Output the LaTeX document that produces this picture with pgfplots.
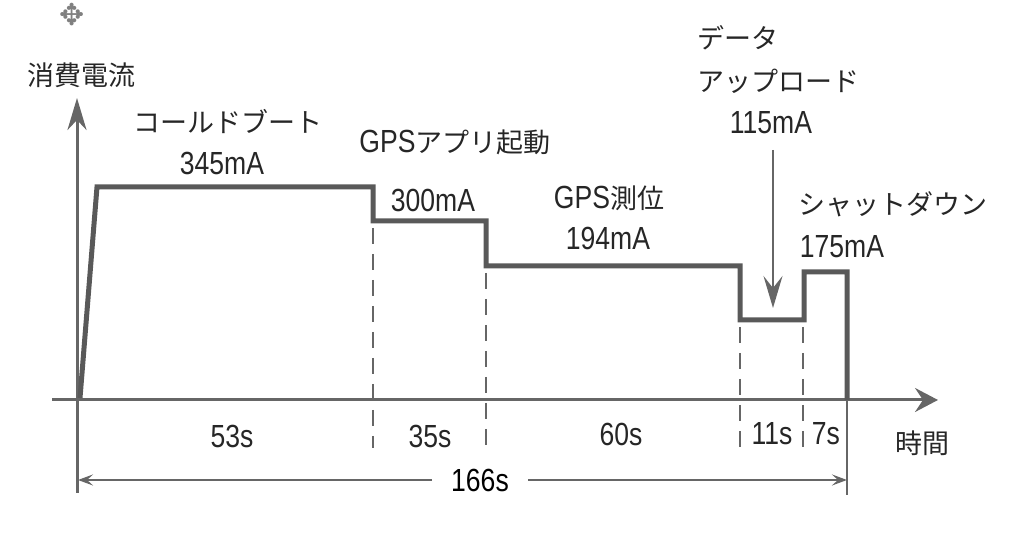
\documentclass[border=0pt]{standalone}
\usepackage{pgfplots}
\pgfplotsset{compat=1.18}
\usepackage{fontspec}
\usetikzlibrary{arrows.meta}
\setmainfont{Liberation Sans}
\newfontfamily\jp{Noto Sans CJK JP}
\newfontfamily\lat[FakeStretch=0.83]{Liberation Sans}
\newfontfamily\sym{DejaVu Sans}
\newcommand\J[1]{{\fontsize{13.5}{15}\selectfont\jp #1}}
\newcommand\LT[1]{{\fontsize{16}{18}\selectfont\lat #1}}
\definecolor{tracec}{HTML}{595959}
\definecolor{axc}{HTML}{666666}
\definecolor{txt}{HTML}{262626}
\begin{document}
\begin{tikzpicture}
\useasboundingbox (0,0) rectangle (517.5pt,270pt);
\begin{axis}[scale only axis, width=517.5pt, height=270pt,
  xmin=0, xmax=1035, ymin=0, ymax=540, hide axis, clip=false]
% axes
\addplot[color=axc, line width=1.5pt, -{Stealth[length=11.5pt,width=12pt,inset=4pt]}] coordinates {(52,140) (938,140)};
\addplot[color=axc, line width=1.5pt, -{Stealth[length=16pt,width=9.5pt,inset=5pt]}] coordinates {(77,47) (77,442)};
% right boundary
\addplot[color=axc, line width=1pt] coordinates {(847,140) (847,45)};
% dashed separators
\addplot[color=axc, line width=1.2pt, dash pattern=on 8pt off 5pt] coordinates {(373,312) (373,92)};
\addplot[color=axc, line width=1.2pt, dash pattern=on 8pt off 5pt] coordinates {(486,267) (486,92)};
\addplot[color=axc, line width=1.2pt, dash pattern=on 8pt off 5pt] coordinates {(740,213) (740,92)};
\addplot[color=axc, line width=1.2pt, dash pattern=on 8pt off 5pt] coordinates {(803,213) (803,92)};
% total arrows
\addplot[color=axc, line width=1.2pt, -{Stealth[length=7.5pt,width=5.5pt,inset=3pt]}] coordinates {(432,60) (78,60)};
\addplot[color=axc, line width=1.2pt, -{Stealth[length=7.5pt,width=5.5pt,inset=3pt]}] coordinates {(528,60) (847,60)};
% upload arrow
\addplot[color=axc, line width=1pt, -{Stealth[length=16pt,width=9.5pt,inset=6pt]}] coordinates {(773,390) (773,232)};
% current trace
\addplot[color=tracec, line width=2.5pt, line join=miter] coordinates {
(80,142) (97,353) (373,353) (373,319) (486,319) (486,274) (740,274)
(740,220) (804,220) (804,268) (847,268) (847,140)};
% texts
\node[text=txt] at (81,465) {\J{消費電流}};
\node[text=txt] at (228,418) {\J{コールドブート}};
\node[text=txt] at (222,377) {\LT{345mA}};
\node[text=txt] at (455,398) {\LT{GPS}\J{アプリ起動}};
\node[text=txt] at (433,340) {\LT{300mA}};
\node[text=txt] at (609,342) {\LT{GPS}\J{測位}};
\node[text=txt] at (608,302) {\LT{194mA}};
\node[text=txt, anchor=west, inner sep=0pt] at (697,502) {\J{データ}};
\node[text=txt, anchor=west, inner sep=0pt] at (697,459) {\J{アップロード}};
\node[text=txt] at (771,417) {\LT{115mA}};
\node[text=txt] at (893,336) {\J{シャットダウン}};
\node[text=txt] at (842,293) {\LT{175mA}};
\node[text=txt] at (232,104) {\LT{53s}};
\node[text=txt] at (430,104) {\LT{35s}};
\node[text=txt] at (621,106) {\LT{60s}};
\node[text=txt] at (772,106) {\LT{11s}};
\node[text=txt] at (826,106) {\LT{7s}};
\node[text=txt] at (922,97) {\J{時間}};
\node[text=black] at (480,60) {\LT{166s}};
\node[text=gray] at (72,525) {\fontsize{15}{16}\selectfont\sym ✥};
\end{axis}
\end{tikzpicture}
\end{document}
